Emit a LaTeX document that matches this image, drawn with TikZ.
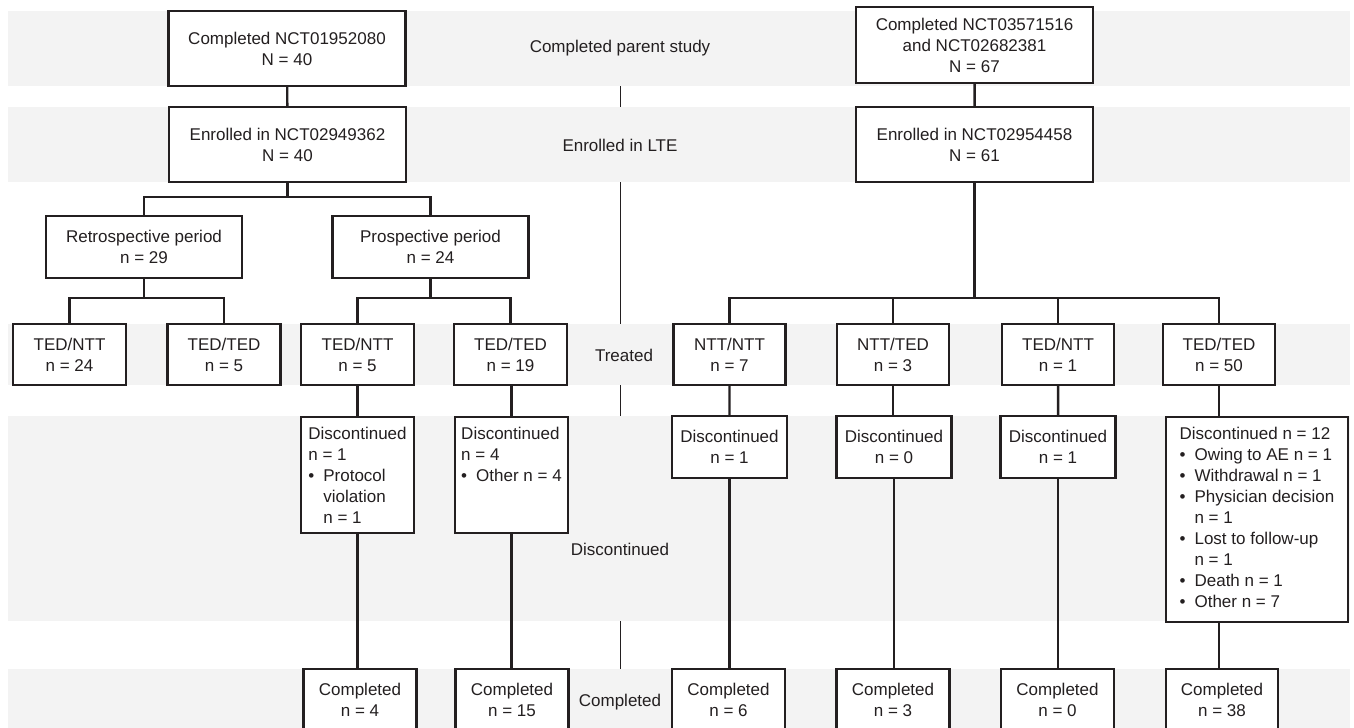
\documentclass[tikz,border=0pt]{standalone}
\usepackage{fontspec}
\setmainfont{Liberation Sans}
\usetikzlibrary{
  positioning,
  calc
}
\definecolor{stripe}{HTML}{F3F3F3}
\definecolor{ink}{HTML}{231F20}
\newcommand{\bulpt}{\makebox[15pt][l]{\textbullet}}
\newcommand{\bulgap}{\hspace*{15pt}}
\newcommand{\stack}[1]{\begin{tabular}[t]{@{}l@{}}#1\end{tabular}}

\begin{document}
\begin{tikzpicture}[x=1pt, y=-1pt, scale=0.75, transform shape,
  box/.style={draw=ink, line width=1.8pt, fill=white, align=center, inner xsep=3pt, inner ysep=2pt,
    font=\fontsize{17pt}{21pt}\selectfont, text=ink},
  topbox/.style={draw=ink, line width=1.8pt, fill=white, anchor=north, inner xsep=3pt, inner ysep=4pt,
    text height=19pt, font=\fontsize{17pt}{21pt}\selectfont, text=ink},
  lbl/.style={font=\fontsize{17pt}{21pt}\selectfont, text=ink},
  link/.style={draw=ink, line width=1.8pt},
  rule/.style={draw=ink, line width=0.75pt}
]
  \useasboundingbox (0,0) rectangle (1354,728);
  \clip (0,0) rectangle (1354,728);

  % Bands
  \fill[stripe] (8,11) rectangle (1350,86);
  \fill[stripe] (8,107) rectangle (1350,182);
  \fill[stripe] (8,324) rectangle (1350,385);
  \fill[stripe] (8,416) rectangle (1350,621);
  \fill[stripe] (8,669) rectangle (1350,728);

  % Middle labels
  \node[lbl] (lpar) at (620,48) {Completed parent study};
  \node[lbl] (llte) at (620,145) {Enrolled in LTE};
  \node[lbl] (ltrt) at (624,355) {Treated};
  \node[lbl] (ldis) at (620,549) {Discontinued};
  \node[lbl] (lcmp) at (620,702) {Completed};
  \foreach \a/\b in {86/107, 182/324, 385/416, 621/669}
    \draw[rule] (620,\a) -- (620,\b);

  % Parent studies
  \node[box, minimum width=237pt, minimum height=75pt] (par1) at (287,48.5) {Completed NCT01952080\\N = 40};
  \node[box, minimum width=237pt, minimum height=76pt] (par2) at (974.5,45) {Completed NCT03571516\\and NCT02682381\\N = 67};

  % LTE
  \node[box, minimum width=237pt, minimum height=75pt] (lte1) at (287.5,144.5) {Enrolled in NCT02949362\\N = 40};
  \node[box, minimum width=237pt, minimum height=75pt] (lte2) at (974.5,144.5) {Enrolled in NCT02954458\\N = 61};
  \draw[link] (par1) -- (lte1);
  \draw[link] (par2) -- (lte2);

  % Periods
  \node[box, minimum width=196pt, minimum height=62pt] (retro) at (144,247) {Retrospective period\\n = 29};
  \node[box, minimum width=196pt, minimum height=62pt] (prosp) at (430.5,247) {Prospective period\\n = 24};
  \draw[link] (lte1.south) -- ++(0,14) -| (retro.north);
  \draw[link] (lte1.south) -- ++(0,14) -| (prosp.north);

  % Treated
  \node[box, minimum width=113pt, minimum height=61pt] (trt1) at (69.5,354.5) {TED/NTT\\n = 24};
  \node[box, minimum width=113pt, minimum height=61pt] (trt2) at (224,354.5) {TED/TED\\n = 5};
  \node[box, minimum width=113pt, minimum height=61pt] (trt3) at (357.5,354.5) {TED/NTT\\n = 5};
  \node[box, minimum width=113pt, minimum height=61pt] (trt4) at (510.5,354.5) {TED/TED\\n = 19};
  \node[box, minimum width=112pt, minimum height=61pt] (trt5) at (729.5,354.5) {NTT/NTT\\n = 7};
  \node[box, minimum width=112pt, minimum height=61pt] (trt6) at (893,354.5) {NTT/TED\\n = 3};
  \node[box, minimum width=112pt, minimum height=61pt] (trt7) at (1058,354.5) {TED/NTT\\n = 1};
  \node[box, minimum width=112pt, minimum height=61pt] (trt8) at (1219,354.5) {TED/TED\\n = 50};
  \draw[link] (retro.south) -- ++(0,19) -| (trt1.north);
  \draw[link] (retro.south) -- ++(0,19) -| (trt2.north);
  \draw[link] (prosp.south) -- ++(0,19) -| (trt3.north);
  \draw[link] (prosp.south) -- ++(0,19) -| (trt4.north);
  \foreach \t in {trt5, trt6, trt7, trt8}
    \draw[link] (lte2.south) -- ++(0,115) -| (\t.north);

  % Discontinued
  \node[topbox, minimum width=113pt, text depth=89pt] (dis3) at (357.5,416) {\stack{Discontinued\\n = 1\\\bulpt Protocol\\\bulgap violation\\\bulgap n = 1}};
  \node[topbox, minimum width=113pt, text depth=89pt] (dis4) at (511.5,416) {\stack{Discontinued\\n = 4\\\bulpt Other n = 4}};
  \node[box, minimum width=115pt, minimum height=62pt] (dis5) at (729.5,447) {Discontinued\\n = 1};
  \node[box, minimum width=115pt, minimum height=62pt] (dis6) at (894,447) {Discontinued\\n = 0};
  \node[box, minimum width=115pt, minimum height=62pt] (dis7) at (1058,447) {Discontinued\\n = 1};
  \node[topbox, minimum width=182pt, text depth=178pt] (dis8) at (1257,416) {\stack{Discontinued n = 12\\\bulpt Owing to AE n = 1\\\bulpt Withdrawal n = 1\\\bulpt Physician decision\\\bulgap n = 1\\\bulpt Lost to follow-up\\\bulgap n = 1\\\bulpt Death n = 1\\\bulpt Other n = 7}};
  \draw[link] (trt3.south) -- (trt3.south |- dis3.north);
  \draw[link] (dis4.north |- trt4.south) -- (dis4.north);
  \draw[link] (trt5) -- (dis5);
  \draw[link] (trt6.south) -- (trt6.south |- dis6.north);
  \draw[link] (trt7) -- (dis7);
  \draw[link] (trt8.south) -- (trt8.south |- dis8.north);

  % Completed
  \node[box, minimum width=113pt, minimum height=61pt] (cmp3) at (360,699.5) {Completed\\n = 4};
  \node[box, minimum width=113pt, minimum height=61pt] (cmp4) at (512,699.5) {Completed\\n = 15};
  \node[box, minimum width=113pt, minimum height=61pt] (cmp5) at (728.5,699.5) {Completed\\n = 6};
  \node[box, minimum width=113pt, minimum height=61pt] (cmp6) at (893,699.5) {Completed\\n = 3};
  \node[box, minimum width=113pt, minimum height=61pt] (cmp7) at (1057.5,699.5) {Completed\\n = 0};
  \node[box, minimum width=112pt, minimum height=61pt] (cmp8) at (1222,699.5) {Completed\\n = 38};
  \draw[link] (dis3.south) -- (dis3.south |- cmp3.north);
  \draw[link] (dis4.south) -- (dis4.south |- cmp4.north);
  \draw[link] (dis5.south) -- (dis5.south |- cmp5.north);
  \draw[link] (dis6.south) -- (dis6.south |- cmp6.north);
  \draw[link] (dis7.south) -- (dis7.south |- cmp7.north);
  \draw[link] (trt8.south |- dis8.south) -- (trt8.south |- cmp8.north);
\end{tikzpicture}
\end{document}
